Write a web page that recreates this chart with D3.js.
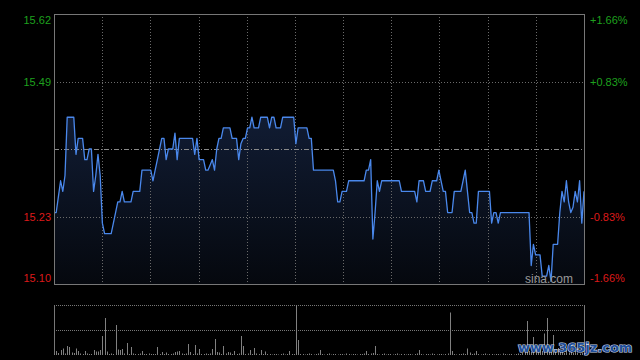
<!DOCTYPE html>
<html>
<head>
<meta charset="utf-8">
<script src="https://cdn.jsdelivr.net/npm/d3@7/dist/d3.min.js"></script>
<style>
body{margin:0;background:#000;}
svg{display:block;font-family:"Liberation Sans",Arial,sans-serif;}
</style>
</head>
<body>
<svg id="chart" width="640" height="360"></svg>
<script>
var prevClose = 15.36;

// one value per minute, 9:30-11:30 / 13:00-15:00
var prices = [
  15.24,15.24,15.27,15.30,15.28,15.31,15.42,15.42,15.42,15.42,
  15.35,15.38,15.38,15.38,15.34,15.34,15.36,15.36,15.28,15.31,
  15.35,15.31,15.22,15.20,15.20,15.20,15.20,15.22,15.24,15.26,
  15.26,15.28,15.26,15.26,15.26,15.26,15.28,15.28,15.28,15.28,
  15.32,15.32,15.32,15.32,15.32,15.30,15.32,15.34,15.36,15.38,
  15.38,15.34,15.36,15.36,15.36,15.39,15.34,15.38,15.38,15.38,
  15.38,15.38,15.38,15.38,15.35,15.38,15.34,15.34,15.34,15.32,
  15.32,15.33,15.34,15.32,15.36,15.38,15.38,15.40,15.40,15.40,
  15.40,15.38,15.38,15.38,15.34,15.37,15.38,15.38,15.40,15.40,
  15.42,15.40,15.40,15.40,15.42,15.42,15.42,15.42,15.40,15.42,
  15.42,15.40,15.40,15.40,15.42,15.42,15.42,15.42,15.42,15.42,
  15.37,15.40,15.40,15.40,15.40,15.40,15.38,15.38,15.32,15.32,
  15.32,15.32,15.32,15.32,15.32,15.32,15.32,15.32,15.30,15.26,
  15.26,15.28,15.28,15.28,15.30,15.30,15.30,15.30,15.30,15.30,
  15.30,15.30,15.32,15.32,15.34,15.19,15.24,15.30,15.28,15.30,
  15.30,15.30,15.30,15.30,15.30,15.30,15.30,15.30,15.28,15.28,
  15.28,15.28,15.28,15.28,15.28,15.26,15.30,15.30,15.30,15.28,
  15.28,15.28,15.30,15.30,15.30,15.32,15.30,15.28,15.28,15.24,
  15.24,15.24,15.28,15.28,15.28,15.28,15.30,15.32,15.28,15.24,
  15.24,15.22,15.22,15.28,15.28,15.28,15.28,15.28,15.28,15.22,
  15.24,15.24,15.22,15.24,15.24,15.24,15.24,15.24,15.24,15.24,
  15.24,15.24,15.24,15.24,15.24,15.24,15.24,15.14,15.18,15.16,
  15.16,15.16,15.12,15.12,15.12,15.14,15.11,15.18,15.18,15.18,
  15.24,15.28,15.26,15.30,15.26,15.24,15.25,15.28,15.26,15.30,
  15.22,15.28
];

var volumes = [
  3,8,4,10,13,3,18,16,5,4,
  13,8,3,2,8,3,2,2,10,7,
  7,10,38,74,7,2,3,2,60,11,
  10,12,3,24,2,16,3,2,2,3,
  8,2,2,3,2,2,2,16,2,6,
  2,5,2,2,3,6,7,8,3,2,
  3,22,6,2,20,3,12,2,2,3,
  2,3,12,32,6,5,2,18,3,6,
  5,2,8,2,3,38,18,2,3,10,
  2,14,3,2,10,2,7,2,2,1,
  2,2,1,2,3,1,2,8,2,2,
  100,30,2,2,1,2,3,2,1,2,
  3,10,2,1,2,3,1,2,2,1,
  2,2,1,3,2,1,2,2,1,2,
  2,3,8,2,3,4,18,2,1,2,
  3,1,2,2,1,2,3,1,2,2,
  1,2,2,1,2,3,10,2,1,2,
  2,1,3,2,1,2,2,1,2,3,
  85,8,2,1,2,2,3,2,13,5,
  2,3,8,2,1,2,3,1,2,2,
  1,2,2,1,3,2,1,2,2,1,
  2,3,2,4,6,68,8,6,36,10,
  6,12,8,43,74,10,12,40,8,14,
  6,8,4,10,5,6,4,8,5,3,
  4,6
];

var pctTicks = [1.66, 0.83, -0.83, -1.66];
var priceLabels = ["15.62", "15.49", "15.23", "15.10"];
var pctLabels = ["+1.66%", "+0.83%", "-0.83%", "-1.66%"];

var pLeft = 54, pRight = 584, pTop = 14, pBottom = 284;
var vTop = 305, vBottom = 355;

var svg = d3.select("#chart");

var x = d3.scaleLinear().domain([0, prices.length - 1]).range([pLeft, pRight]);
var y = d3.scaleLinear().
  domain([prevClose * (1 - 0.0166), prevClose * (1 + 0.0166)]).
  range([pBottom, pTop]);
var yv = d3.scaleLinear().domain([0, d3.max(volumes)]).range([vBottom, vTop]);

var defs = svg.append("defs");
var grad = defs.append("linearGradient").
  attr("id", "fillgrad").
  attr("x1", 0).attr("y1", 0).attr("x2", 0).attr("y2", 1);
grad.append("stop").attr("offset", "0%").attr("stop-color", "#111c33");
grad.append("stop").attr("offset", "100%").attr("stop-color", "#05080e");

// area under the price line
var area = d3.area().
  x(function (d, i) {return x(i);}).
  y0(pBottom).
  y1(function (d) {return y(d);});
svg.append("path").
  datum(prices).
  attr("d", area).
  attr("fill", "url(#fillgrad)");

// vertical grid
var vgrid = d3.range(1, 11).map(function (k) {return pLeft + k * (pRight - pLeft) / 11;});
svg.append("g").selectAll("line").
  data(vgrid).
  enter().append("line").
  attr("x1", function (d) {return Math.round(d) + 0.5;}).
  attr("x2", function (d) {return Math.round(d) + 0.5;}).
  attr("y1", pTop).attr("y2", pBottom).
  attr("stroke", "#6a6a6a").
  attr("stroke-dasharray", "1,2");

// horizontal grid
var tickVals = pctTicks.map(function (p) {return prevClose * (1 + p / 100);});
svg.append("g").selectAll("line").
  data(tickVals.slice(1, 3)).
  enter().append("line").
  attr("x1", pLeft).attr("x2", pRight).
  attr("y1", function (d) {return Math.round(y(d)) + 0.5;}).
  attr("y2", function (d) {return Math.round(y(d)) + 0.5;}).
  attr("stroke", "#6a6a6a").
  attr("stroke-dasharray", "1,2");

// previous close
svg.append("line").
  attr("x1", pLeft).attr("x2", pRight).
  attr("y1", Math.round(y(prevClose)) + 0.5).
  attr("y2", Math.round(y(prevClose)) + 0.5).
  attr("stroke", "#8a8a8a").
  attr("stroke-dasharray", "5,2,1,2");

// price line
var line = d3.line().
  x(function (d, i) {return x(i);}).
  y(function (d) {return y(d);});
svg.append("path").
  datum(prices).
  attr("d", line).
  attr("fill", "none").
  attr("stroke", "#4a88ec").
  attr("stroke-width", 1.3).
  attr("stroke-linejoin", "round");

// frame
svg.append("rect").
  attr("x", pLeft + 0.5).attr("y", pTop + 0.5).
  attr("width", pRight - pLeft).attr("height", pBottom - pTop).
  attr("fill", "none").
  attr("stroke", "#777");

// axis labels
function labelDy(i) {
  if (i == 0) return 6;
  if (i == tickVals.length - 1) return -6;
  return 0;
}
function labelColor(i) {
  return pctTicks[i] > 0 ? "#1ea01e" : "#dd1a1a";
}
svg.append("g").selectAll("text").
  data(tickVals).
  enter().append("text").
  attr("x", pLeft - 3).
  attr("y", function (d, i) {return y(d) + labelDy(i) + 4;}).
  attr("text-anchor", "end").
  attr("font-size", 11).
  attr("fill", function (d, i) {return labelColor(i);}).
  text(function (d, i) {return priceLabels[i];});
svg.append("g").selectAll("text").
  data(tickVals).
  enter().append("text").
  attr("x", pRight + 6).
  attr("y", function (d, i) {return y(d) + labelDy(i) + 4;}).
  attr("text-anchor", "start").
  attr("font-size", 11).
  attr("fill", function (d, i) {return labelColor(i);}).
  text(function (d, i) {return pctLabels[i];});

svg.append("text").
  attr("x", 573).attr("y", 283).
  attr("text-anchor", "end").
  attr("font-size", 12).
  attr("fill", "#9a9a9a").
  text("sina.com");

// volume panel
svg.append("g").selectAll("line").
  data([vTop, (vTop + vBottom) / 2]).
  enter().append("line").
  attr("x1", pLeft).attr("x2", pRight).
  attr("y1", function (d) {return Math.round(d) + 0.5;}).
  attr("y2", function (d) {return Math.round(d) + 0.5;}).
  attr("stroke", "#777").
  attr("stroke-dasharray", "1,1");

svg.append("g").selectAll("line").
  data([pLeft, pRight]).
  enter().append("line").
  attr("x1", function (d) {return d + 0.5;}).
  attr("x2", function (d) {return d + 0.5;}).
  attr("y1", vTop).attr("y2", vBottom).
  attr("stroke", "#777");

svg.append("g").selectAll("line").
  data(volumes).
  enter().append("line").
  attr("x1", function (d, i) {return Math.round(x(i)) + 0.5;}).
  attr("x2", function (d, i) {return Math.round(x(i)) + 0.5;}).
  attr("y1", vBottom).
  attr("y2", function (d) {return yv(d);}).
  attr("stroke", "#808080");

svg.append("text").
  attr("x", 518).attr("y", 352).
  attr("font-size", 13).
  attr("font-weight", "bold").
  attr("font-family", "'DejaVu Sans', sans-serif").
  attr("fill", "#1f4f9a").
  attr("stroke", "#c8d4e8").
  attr("stroke-width", 1.2).
  attr("paint-order", "stroke").
  text("www.365jz.com");
</script>
</body>
</html>
